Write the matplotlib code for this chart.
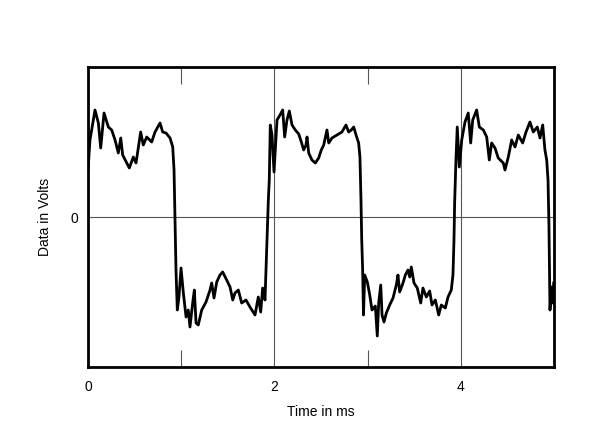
import matplotlib.pyplot as plt

plt.rcParams['font.family'] = ['Liberation Sans', 'DejaVu Sans']

# waveform: time (ms) and data (volts, arbitrary scale)
time_ms = [
    0.000, 0.021, 0.075, 0.111, 0.136, 0.172, 0.218, 0.254, 0.290, 0.325,
    0.351, 0.372, 0.415, 0.443, 0.486, 0.515, 0.565, 0.593, 0.630, 0.683,
    0.719, 0.773, 0.801, 0.837, 0.880, 0.909, 0.923, 0.933, 0.944, 0.958,
    0.976, 0.998, 1.023, 1.052, 1.076, 1.094, 1.123, 1.141, 1.159, 1.183,
    1.220, 1.266, 1.309, 1.327, 1.352, 1.381, 1.416, 1.445, 1.488, 1.524,
    1.553, 1.577, 1.613, 1.649, 1.695, 1.738, 1.792, 1.827, 1.853, 1.874,
    1.899, 1.917, 1.935, 1.945, 1.956, 1.974, 1.996, 2.028, 2.060, 2.089,
    2.110, 2.135, 2.160, 2.189, 2.224, 2.261, 2.289, 2.314, 2.339, 2.350,
    2.368, 2.403, 2.439, 2.475, 2.503, 2.529, 2.564, 2.583, 2.618, 2.672,
    2.725, 2.768, 2.797, 2.825, 2.851, 2.876, 2.904, 2.918, 2.929, 2.937,
    2.947, 2.956, 2.969, 2.997, 3.023, 3.047, 3.083, 3.104, 3.119, 3.141,
    3.155, 3.176, 3.201, 3.237, 3.273, 3.308, 3.326, 3.344, 3.380, 3.405,
    3.433, 3.452, 3.469, 3.498, 3.533, 3.570, 3.594, 3.630, 3.666, 3.691,
    3.727, 3.763, 3.791, 3.834, 3.863, 3.898, 3.916, 3.927, 3.934, 3.948,
    3.962, 3.984, 4.010, 4.045, 4.080, 4.106, 4.128, 4.170, 4.199, 4.242,
    4.278, 4.306, 4.331, 4.367, 4.402, 4.456, 4.474, 4.510, 4.546, 4.582,
    4.617, 4.664, 4.700, 4.742, 4.778, 4.821, 4.850, 4.879, 4.903, 4.922,
    4.936, 4.946, 4.952, 4.957, 4.975, 4.986, 4.997,
]
volts = [
    0.47, 0.77, 1.07, 0.94, 0.69, 1.04, 0.90, 0.87, 0.77, 0.64,
    0.79, 0.62, 0.54, 0.49, 0.60, 0.54, 0.85, 0.72, 0.80, 0.75,
    0.85, 0.94, 0.85, 0.84, 0.79, 0.70, 0.47, -0.03, -0.53, -0.93,
    -0.80, -0.51, -0.76, -1.00, -0.93, -1.10, -0.86, -0.73, -1.06, -1.08,
    -0.93, -0.85, -0.73, -0.66, -0.81, -0.65, -0.58, -0.55, -0.63, -0.70,
    -0.83, -0.76, -0.73, -0.86, -0.83, -0.90, -0.98, -0.80, -0.95, -0.71,
    -0.83, -0.33, 0.17, 0.37, 0.92, 0.82, 0.45, 0.97, 1.02, 1.07,
    0.80, 0.97, 1.06, 0.92, 0.87, 0.83, 0.75, 0.67, 0.72, 0.80,
    0.64, 0.57, 0.54, 0.59, 0.67, 0.72, 0.87, 0.74, 0.79, 0.82,
    0.85, 0.92, 0.85, 0.87, 0.90, 0.82, 0.74, 0.60, 0.17, -0.23,
    -0.53, -0.98, -0.58, -0.65, -0.78, -0.93, -0.89, -1.19, -0.86, -0.68,
    -0.98, -1.05, -0.96, -0.88, -0.81, -0.68, -0.58, -0.75, -0.66, -0.58,
    -0.53, -0.60, -0.50, -0.66, -0.71, -0.86, -0.71, -0.80, -0.74, -0.88,
    -0.83, -0.98, -0.88, -0.91, -0.80, -0.73, -0.58, -0.23, 0.14, 0.57,
    0.90, 0.50, 0.77, 0.95, 1.04, 0.74, 0.97, 1.07, 0.90, 0.87,
    0.80, 0.57, 0.74, 0.69, 0.59, 0.54, 0.47, 0.60, 0.77, 0.70,
    0.82, 0.74, 0.85, 0.95, 0.85, 0.90, 0.79, 0.92, 0.67, 0.57,
    0.37, -0.08, -0.60, -0.93, -0.70, -0.86, -0.66,
]

x_ticks = [0, 2, 4]
x_minor = [1, 3]

fig = plt.figure(figsize=(6, 4.46), dpi=100)
ax = fig.add_axes([0.1467, 0.1771, 0.7766, 0.6727])

ax.plot(time_ms, volts, color='black', linewidth=2.0, solid_joinstyle='round')

ax.set_xlim(0, 5)
ax.set_ylim(-1.5, 1.5)

# thin grey reference lines at 2, 4 ms and at zero
for xv in [2, 4]:
    ax.axvline(xv, color='#555555', linewidth=0.8, zorder=0)
ax.axhline(0, color='#555555', linewidth=0.8, zorder=0)

ax.set_xticks(x_ticks)
ax.set_xticks(x_minor, minor=True)
ax.set_yticks([0])
ax.tick_params(axis='both', which='major', length=0, labelsize=10)
ax.tick_params(axis='x', which='major', pad=9)
ax.tick_params(axis='y', which='major', pad=7)
ax.tick_params(axis='x', which='minor', direction='in', length=12,
               width=0.8, color='#555555', top=True, bottom=True)

for s in ax.spines.values():
    s.set_linewidth(2)
    s.set_color('black')

ax.set_xlabel('Time in ms', fontsize=10, labelpad=8)
ax.set_ylabel('Data in Volts', fontsize=10, labelpad=13)

fig.savefig('out.png', dpi=100)
